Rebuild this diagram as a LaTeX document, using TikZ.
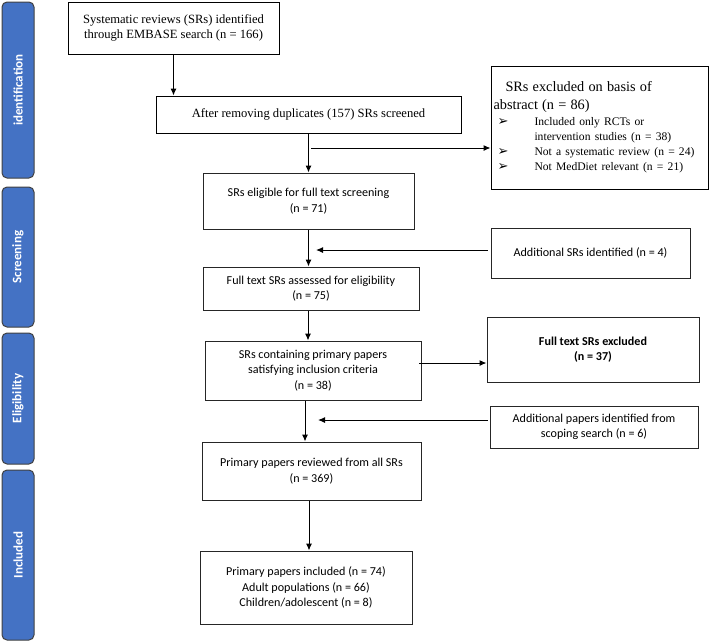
\documentclass[tikz,border=0pt]{standalone}
\usepackage{fontspec}
\setmainfont{Liberation Serif}
\newfontfamily\calib{Carlito}
\newfontfamily\dejavu{DejaVu Sans}
\usetikzlibrary{arrows.meta,positioning}
\definecolor{phaseblue}{RGB}{68,114,196}
\newcommand{\exmark}{\makebox[41pt][l]{\hspace*{4pt}{\dejavu\fontsize{13}{10}\selectfont ➢}}}
\tikzset{
    %Define standard arrow tip
    >={Latex[length=7pt,width=6pt]},
    %Define style for serif boxes
    tbox/.style={
           rectangle,
           draw=black, line width=1pt,
           inner sep=2pt,
           align=center,
           font=\fontsize{12.6}{14.5}\selectfont},
    %Define style for sans boxes
    cbox/.style={
           rectangle,
           draw=black!85, line width=1pt,
           inner sep=2pt,
           align=center,
           font=\calib\fontsize{12.1}{15.5}\selectfont},
    %Define style for phase bars
    phase/.style={
           rectangle,
           rounded corners=5pt,
           draw=black!75, line width=1pt,
           fill=phaseblue,
           text=white,
           rotate=90,
           minimum height=32pt,
           font=\calib\bfseries\fontsize{13}{15}\selectfont},
    % Define arrow style
    pil/.style={
           ->,
           line width=1pt}
}
\begin{document}
\begin{tikzpicture}[x=1pt, y=-1pt]
\useasboundingbox (0,0) rectangle (709,641);

%phase bars
\node[phase, minimum width=176pt] (pident) at (18,90) {identification};
\node[phase, minimum width=140pt] (pscreen) at (18,257) {Screening};
\node[phase, minimum width=131pt] (pelig) at (18,398.5) {Eligibility};
\node[phase, minimum width=170pt] (pincl) at (18,555) {Included};

%identification
\node[tbox, minimum width=211pt, minimum height=52pt] (ident) at (173.5,28)
  {Systematic reviews (SRs) identified\\through EMBASE search (n = 166)};
\node[tbox, minimum width=305pt, minimum height=37pt] (dedup) at (308.5,114.5)
  {After removing duplicates (157) SRs screened};
\node[tbox, minimum width=217pt, minimum height=123pt, align=left, text width=212pt] (excl) at (599.5,127.5)
  {{\fontsize{14.3}{18}\selectfont\hspace*{12pt}SRs excluded on basis of\\abstract (n = 86)\par}
   \vspace{1pt}
   {\fontsize{11.6}{15}\selectfont
   \exmark Included only RCTs or\\
   \hspace*{41pt}intervention studies (n = 38)\\
   \exmark Not a systematic review (n = 24)\\
   \exmark Not MedDiet relevant (n = 21)\par}};

%screening
\node[cbox, minimum width=211pt, minimum height=56pt] (elig) at (308.5,201)
  {SRs eligible for full text screening\\(n = 71)};
\node[cbox, minimum width=199pt, minimum height=50pt] (addsr) at (590.5,253)
  {Additional SRs identified (n = 4)};
\node[cbox, minimum width=216pt, minimum height=43pt] (assess) at (311,288.5)
  {Full text SRs assessed for eligibility\\(n = 75)};

%eligibility
\node[cbox, minimum width=216pt, minimum height=59pt] (contain) at (313,370.5)
  {SRs containing primary papers\\satisfying inclusion criteria\\(n = 38)};
\node[cbox, minimum width=212pt, minimum height=65pt, font=\calib\bfseries\fontsize{12.1}{15.5}\selectfont] (ftex) at (593,349.5)
  {Full text SRs excluded\\(n = 37)};
\node[cbox, minimum width=208pt, minimum height=42pt] (addpap) at (594,427)
  {Additional papers identified from\\scoping search (n = 6)};
\node[cbox, minimum width=219pt, minimum height=58pt] (review) at (311.5,471)
  {Primary papers reviewed from all SRs\\(n = 369)};

%included
\node[cbox, minimum width=212pt, minimum height=73pt] (incl) at (306,587.5)
  {Primary papers included (n = 74)\\Adult populations (n = 66)\\Children/adolescent (n = 8)};

%side branches
\coordinate (brk1) at (311,148);
\coordinate (join1) at (316,250);
\coordinate (brk2) at (419,363);
\coordinate (join2) at (318,420);

%main flow
\draw[pil] (ident.south) -- (ident.south |- dedup.north);
\draw[pil] (dedup.south) -- (elig.north);
\draw[pil] (elig.south) -- (elig.south |- assess.north);
\draw[pil] ([xshift=-3pt]assess.south) -- ([xshift=-3pt]assess.south |- contain.north);
\draw[pil] ([xshift=-8pt]contain.south) -- ([xshift=-8pt]contain.south |- review.north);
\draw[pil] ([xshift=-2.5pt]review.south) -- ([xshift=-2.5pt]review.south |- incl.north);

%exclusions and additions
\draw[pil] (brk1) -- (brk1 -| excl.west);
\draw[pil] ([xshift=-3pt]addsr.west |- join1) -- (join1);
\draw[pil] (brk2) -- (brk2 -| ftex.west);
\draw[pil] ([xshift=-2pt]addpap.west |- join2) -- (join2);

\end{tikzpicture}
\end{document}
